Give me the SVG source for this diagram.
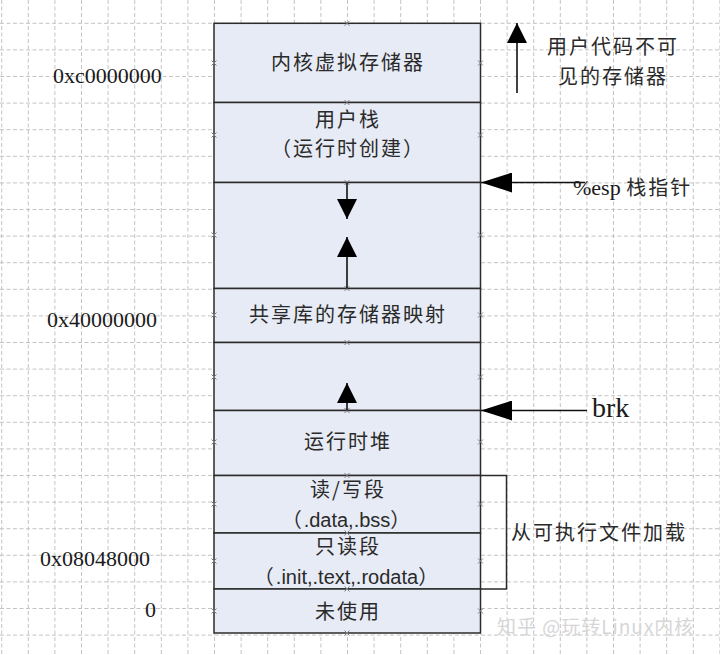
<svg xmlns="http://www.w3.org/2000/svg" width="720" height="655" viewBox="0 0 720 655">
<style>
.grid{stroke:#c4c4c4;stroke-width:1;stroke-dasharray:4,2.5;fill:none}
.seg{fill:#e7ebf5;stroke:#2b2b2b;stroke-width:1.5}
.cn{font-family:"Noto Sans CJK SC","Noto Sans",sans-serif;font-size:20px;fill:#2a2a2a;letter-spacing:2px}
.cnm{text-anchor:middle}
.lat{font-family:"Liberation Sans",Arial,sans-serif;letter-spacing:0}
.ser{font-family:"Liberation Serif","Times New Roman",serif;fill:#1a1a1a}
.ln{stroke:#111;stroke-width:1.6;fill:none}
.mk{stroke:#808080;stroke-width:1;fill:none}
</style>
<defs>
<marker id="ah" viewBox="0 0 20 20" refX="20" refY="10" markerWidth="20" markerHeight="20" markerUnits="userSpaceOnUse" orient="auto"><path d="M0,0 L20,10 L0,20 Z" fill="#000"/></marker>
<marker id="ahl" viewBox="0 0 31 20" refX="31" refY="10" markerWidth="31" markerHeight="20" markerUnits="userSpaceOnUse" orient="auto"><path d="M0,0 L31,10 L0,20 Z" fill="#000"/></marker>
<path id="x" class="mk" d="M-2.5,-2.5 L2.5,2.5 M-2.5,2.5 L2.5,-2.5"/>
</defs>
<rect width="720" height="655" fill="#fff"/>
<path class="grid" d="M1.7,0V655M28.3,0V655M54.9,0V655M81.5,0V655M108.1,0V655M134.7,0V655M161.3,0V655M187.9,0V655M214.5,0V655M241.1,0V655M267.7,0V655M294.3,0V655M320.9,0V655M347.5,0V655M374.1,0V655M400.7,0V655M427.3,0V655M453.9,0V655M480.5,0V655M507.1,0V655M533.7,0V655M560.3,0V655M586.9,0V655M613.5,0V655M640.1,0V655M666.7,0V655M693.3,0V655M719.9,0V655M0,23.3H720M0,49.9H720M0,76.5H720M0,103.1H720M0,129.7H720M0,156.3H720M0,182.9H720M0,209.5H720M0,236.1H720M0,262.7H720M0,289.3H720M0,315.9H720M0,342.5H720M0,369.1H720M0,395.7H720M0,422.3H720M0,448.9H720M0,475.5H720M0,502.1H720M0,528.7H720M0,555.3H720M0,581.9H720M0,608.5H720M0,635.1H720"/>

<g id="kernel"><rect class="seg" x="214" y="23.3" width="266.5" height="79.2"/><text class="cn cnm" x="348" y="70">内核虚拟存储器</text></g>
<g id="user-stack"><rect class="seg" x="214" y="102.5" width="266.5" height="80"/><text class="cn cnm" x="348" y="127">用户栈</text><text class="cn cnm" x="348" y="156">（运行时创建）</text></g>
<g id="gap-stack"><rect class="seg" x="214" y="182.5" width="266.5" height="106"/></g>
<g id="shared-lib"><rect class="seg" x="214" y="288.5" width="266.5" height="54"/><text class="cn cnm" x="348" y="322">共享库的存储器映射</text></g>
<g id="gap-heap"><rect class="seg" x="214" y="342.5" width="266.5" height="68"/></g>
<g id="heap"><rect class="seg" x="214" y="410.5" width="266.5" height="65"/><text class="cn cnm" x="348" y="449">运行时堆</text></g>
<g id="rw-seg"><rect class="seg" x="214" y="475.5" width="266.5" height="57.5"/><text class="cn cnm" x="348" y="497">读/写段</text><text class="cn cnm" x="347" y="527">（<tspan class="lat">.data,.bss</tspan>）</text></g>
<g id="ro-seg"><rect class="seg" x="214" y="533" width="266.5" height="56"/><text class="cn cnm" x="348" y="554">只读段</text><text class="cn cnm" x="347" y="584">（<tspan class="lat">.init,.text,.rodata</tspan>）</text></g>
<g id="unused"><rect class="seg" x="214" y="589" width="266.5" height="44"/><text class="cn cnm" x="348" y="619">未使用</text></g>

<g id="marks">
<use href="#x" x="347" y="23.3"/><use href="#x" x="347" y="102.5"/><use href="#x" x="347" y="182.5"/><use href="#x" x="347" y="288.5"/><use href="#x" x="347" y="342.5"/><use href="#x" x="347" y="410.5"/><use href="#x" x="347" y="475.5"/><use href="#x" x="347" y="533"/><use href="#x" x="347" y="589"/><use href="#x" x="347" y="633"/>
<use href="#x" x="214" y="63"/><use href="#x" x="214" y="135"/><use href="#x" x="214" y="235"/><use href="#x" x="214" y="315"/><use href="#x" x="214" y="377"/><use href="#x" x="214" y="442"/><use href="#x" x="214" y="504"/><use href="#x" x="214" y="561"/><use href="#x" x="214" y="611"/>
<use href="#x" x="480.5" y="63"/><use href="#x" x="480.5" y="135"/><use href="#x" x="480.5" y="235"/><use href="#x" x="480.5" y="315"/><use href="#x" x="480.5" y="377"/><use href="#x" x="480.5" y="442"/><use href="#x" x="480.5" y="504"/><use href="#x" x="480.5" y="561"/><use href="#x" x="480.5" y="611"/>
</g>

<g id="connectors">
<line class="ln" x1="347" y1="182.5" x2="347" y2="219" marker-end="url(#ah)"/>
<line class="ln" x1="347" y1="288.5" x2="347" y2="237" marker-end="url(#ah)"/>
<line class="ln" x1="347" y1="410.5" x2="347" y2="383" marker-end="url(#ah)"/>
<line class="ln" x1="517" y1="93" x2="517" y2="23" marker-end="url(#ah)"/>
<line class="ln" x1="585" y1="182.5" x2="481" y2="182.5" marker-end="url(#ahl)"/>
<line class="ln" x1="587" y1="410.5" x2="481" y2="410.5" marker-end="url(#ahl)"/>
<path class="ln" style="stroke:#2b2b2b;stroke-width:1.5" d="M480.5,475.5 H506.5 V589 H480.5"/>
</g>

<g id="labels">
<text class="ser" x="53" y="83" font-size="22">0xc0000000</text>
<text class="ser" x="47" y="327" font-size="22">0x40000000</text>
<text class="ser" x="40" y="566" font-size="22">0x08048000</text>
<text class="ser" x="145" y="617" font-size="22">0</text>
<text class="cn cnm" x="613" y="54">用户代码不可</text>
<text class="cn cnm" x="613" y="84">见的存储器</text>
<text class="cn" x="573" y="195"><tspan class="ser" font-size="22" style="letter-spacing:0">%esp </tspan>栈指针</text>
<text class="ser" x="592" y="417" font-size="28">brk</text>
<text class="cn" x="511" y="540">从可执行文件加载</text>
<text class="cn" x="497" y="634" style="fill:#d6d6d6;font-size:19px;letter-spacing:1px">知乎 @玩转Linux内核</text>
</g>
</svg>
